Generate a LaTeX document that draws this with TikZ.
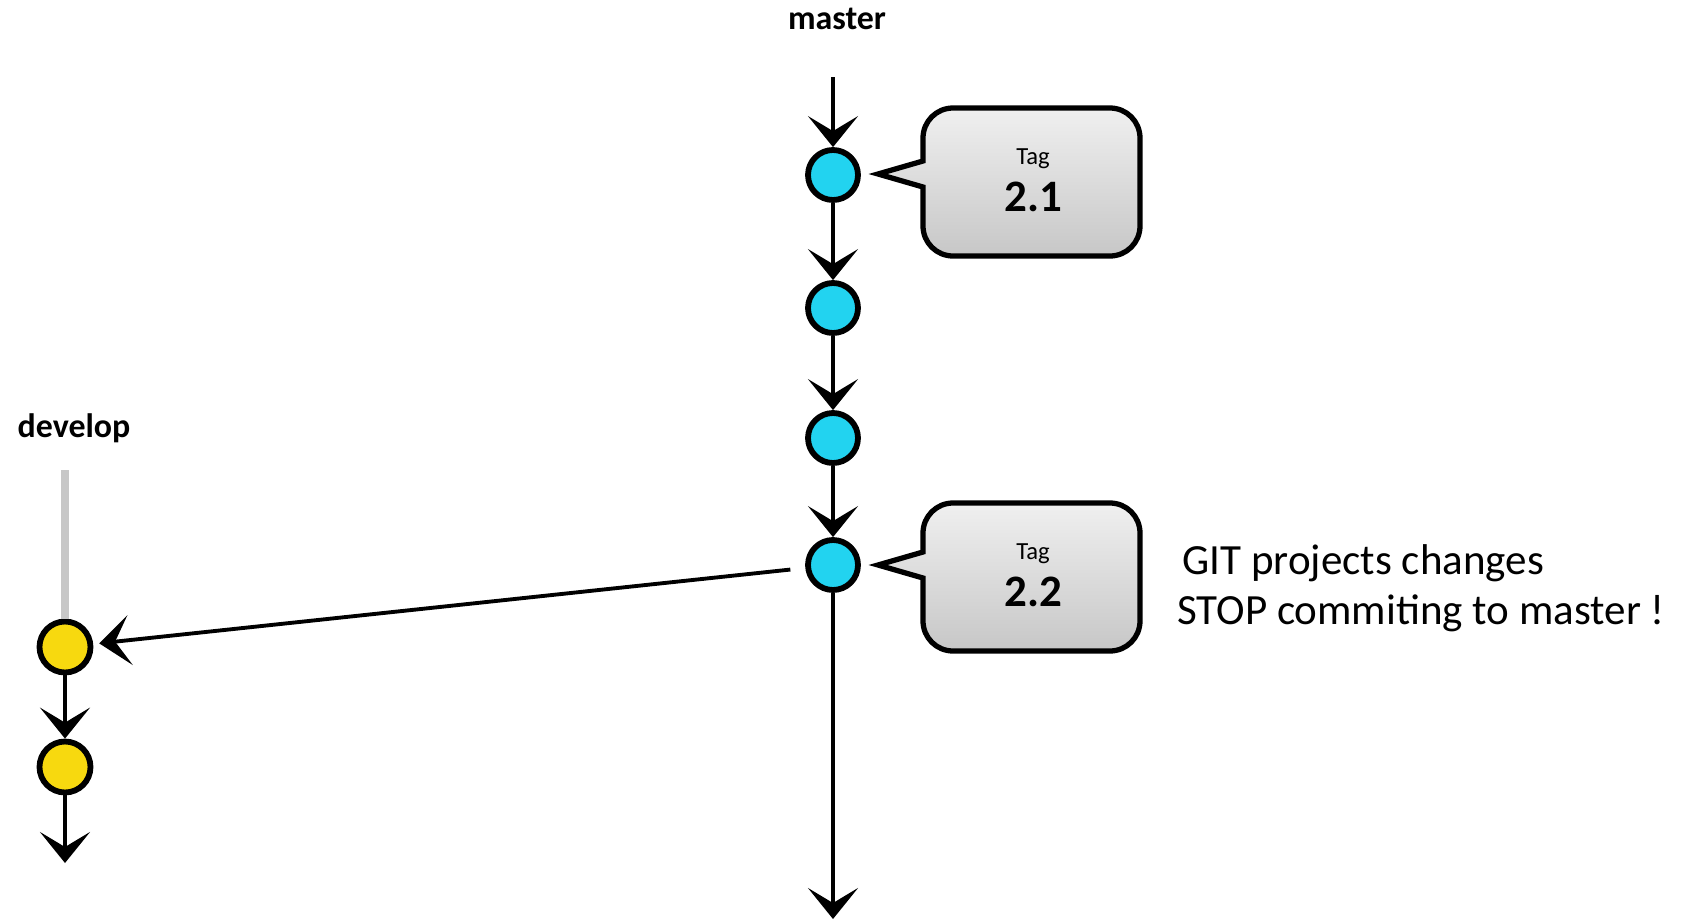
\documentclass[tikz,border=0pt]{standalone}
\usepackage{fontspec}
\setmainfont{Carlito}
\usetikzlibrary{arrows.meta}
\definecolor{commitblue}{HTML}{22D3F0}
\definecolor{commityellow}{HTML}{F7D90F}
\begin{document}
\begin{tikzpicture}[x=0.02cm, y=-0.02cm,
	masterc/.style={circle, draw, line width=3.3pt, fill=commitblue, minimum size=1cm, inner sep=0pt},
	developc/.style={circle, draw, line width=3.3pt, fill=commityellow, minimum size=1.02cm, inner sep=0pt},
	flow/.style={line width=2.5pt, -{Stealth[length=0.62cm, width=1cm, inset=0.3cm]}},
	bubble/.style={draw, line width=3pt, top color=black!6, bottom color=black!22},
	tagword/.style={inner sep=0pt, font=\fontsize{14}{16}\selectfont},
	tagnum/.style={inner sep=0pt, font=\fontsize{25.6}{28}\selectfont\bfseries},
	branch/.style={font=\fontsize{19.3}{22}\selectfont\bfseries}]
	\useasboundingbox (0,0) rectangle (1695,923);
	% branch names
	\node[branch] (master) at (837,19) {master};
	\node[branch] (develop) at (74,428) {develop};
	% master commits
	\coordinate (mtop) at (833,77);
	\coordinate (mend) at (833,919);
	\foreach \n/\y in {1/175, 2/308, 3/438, 4/565}
		\node[masterc] (m\n) at (833,\y) {};
	\draw[flow] (mtop) -- (m1);
	\foreach \a/\b in {1/2, 2/3, 3/4}
		\draw[flow] (m\a) -- (m\b);
	\draw[flow] (m4) -- (mend);
	% develop commits
	\coordinate (dtop) at (65,470);
	\coordinate (dend) at (65,863);
	\node[developc] (d1) at (65,647) {};
	\node[developc] (d2) at (65,767) {};
	\draw[line width=4pt, black!22] (dtop) -- (d1);
	\draw[flow] (d1) -- (d2);
	\draw[flow] (d2) -- (dend);
	\draw[flow, line width=2.2pt, shorten <=0.3cm, shorten >=0.12cm] (m4) -- (d1);
	% tag bubbles
	\foreach \tp/\tip/\v in {108/174/1, 503/565/2} {
		\path[bubble] (878,\tip) -- (923,\tip-13) -- (923,\tp+30)
			arc[start angle=180, end angle=270, radius=30] -- (1110,\tp)
			arc[start angle=270, end angle=360, radius=30] -- (1140,\tp+118)
			arc[start angle=0, end angle=90, radius=30] -- (953,\tp+148)
			arc[start angle=90, end angle=180, radius=30] -- (923,\tip+13) -- cycle;
		\node[tagword] (tag\v) at (1033,\tp+51) {Tag};
		\node[tagnum] (ver\v) at (1033,\tp+89) {2.\v};
	}
	% note
	\node[align=left, inner sep=0pt, anchor=west, font=\fontsize{24.5}{28.5}\selectfont] (note) at (1177,588)
		{\hspace{3pt}GIT projects changes\\STOP commiting to master !};
\end{tikzpicture}
\end{document}
